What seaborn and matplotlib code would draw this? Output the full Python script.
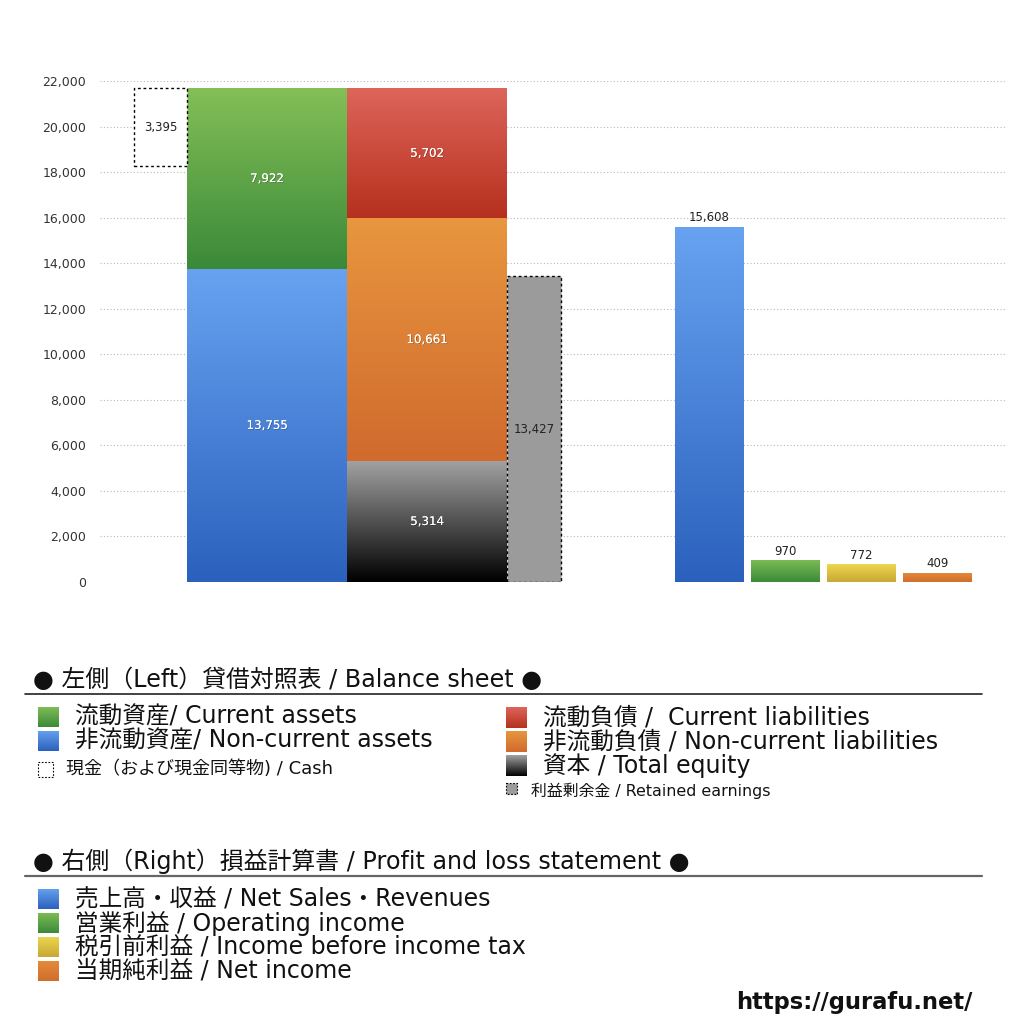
import numpy as np
import pandas as pd
import matplotlib
matplotlib.use("Agg")
import matplotlib.pyplot as plt
import seaborn as sns
from matplotlib.patches import Rectangle
import matplotlib.patheffects as pe
from matplotlib.colors import LinearSegmentedColormap

sns.set_style("white")
plt.rcParams['font.family'] = ['DejaVu Sans', 'Noto Sans CJK JP']

# ---------------- data ----------------
asset_labels = ["非流動資産", "流動資産"]
asset_values = [13755, 7922]
liab_labels = ["資本", "非流動負債", "流動負債"]
liab_values = [5314, 10661, 5702]
cash_value = 3395
retained_value = 13427
pl_labels = ["売上高・収益", "営業利益", "税引前利益", "当期純利益"]
pl_values = [15608, 970, 772, 409]
y_ticks = list(range(0, 22001, 2000))
y_tick_labels = [f"{v:,}" for v in y_ticks]

# ---------------- styles ----------------
asset_grads = [("#67a3f1", "#2b61bd"), ("#84bf57", "#3a8939")]
liab_grads = [("#a3a3a3", "#000000"), ("#e8963f", "#d06a2d"), ("#dd655a", "#b6301d")]
pl_grads = [("#67a3f1", "#2b61bd"), ("#7fbd55", "#3b8a39"), ("#ecd84e", "#c8a735"), ("#e68b3a", "#d06e2d")]
NUMFONT = ['DejaVu Sans']

W = 1024
fig = plt.figure(figsize=(10.24, 10.24), dpi=100)
fig.patch.set_facecolor("white")


def fx(px):
    return px / W


def fy(py):
    return 1 - py / W


ax = fig.add_axes([fx(100), fy(582), fx(1005) - fx(100), fy(81) - fy(582)])


def gradient_fill(a, patch, top, bottom, ylo, yhi, zorder=2):
    x0 = patch.get_x()
    w = patch.get_width()
    cmap = LinearSegmentedColormap.from_list("g", [bottom, top])
    grad = np.linspace(0, 1, 256).reshape(-1, 1)
    im = a.imshow(grad, cmap=cmap, origin="lower", extent=(x0, x0 + w, ylo, yhi),
                  aspect="auto", zorder=zorder, interpolation="bicubic")
    im.set_clip_path(patch)
    patch.set_facecolor("none")
    patch.set_edgecolor("none")


# positions (pixels relative to axes left edge)
cash_x, cash_w = 60.5, 53
bs_w = 160
assets_x, liab_x = 167, 327
ret_x, ret_w = 434, 54
pl_x = [609.5, 685.5, 761.5, 837.5]
pl_w = 69

label_effect = [pe.withSimplePatchShadow(offset=(0.5, -0.5), shadow_rgbFace="#000000", alpha=0.3), pe.Normal()]
LFS = 8.5

# assets stack
bottom = 0
for v, (top_c, bot_c) in zip(asset_values, asset_grads):
    p = ax.bar(assets_x, v, width=bs_w, bottom=bottom, linewidth=0, zorder=2)[0]
    gradient_fill(ax, p, top_c, bot_c, bottom, bottom + v)
    ax.text(assets_x, bottom + v / 2, f"{v:,}", color="white", ha="center", va="center",
            fontsize=LFS, family=NUMFONT, zorder=5, path_effects=label_effect)
    bottom += v

# liabilities + equity stack
bottom = 0
for v, (top_c, bot_c) in zip(liab_values, liab_grads):
    p = ax.bar(liab_x, v, width=bs_w, bottom=bottom, linewidth=0, zorder=2)[0]
    gradient_fill(ax, p, top_c, bot_c, bottom, bottom + v)
    ax.text(liab_x, bottom + v / 2, f"{v:,}", color="white", ha="center", va="center",
            fontsize=LFS, family=NUMFONT, zorder=5, path_effects=label_effect)
    bottom += v

# cash box (top aligned with total assets)
total_assets = sum(asset_values)
ax.bar(cash_x, cash_value, width=cash_w, bottom=total_assets - cash_value, facecolor="white",
       edgecolor="black", linewidth=1, linestyle=(0, (2, 2)), zorder=3)
ax.text(cash_x, total_assets - cash_value / 2, f"{cash_value:,}", color="#222222", ha="center",
        va="center", fontsize=LFS, family=NUMFONT, zorder=5)

# retained earnings
ax.bar(ret_x, retained_value, width=ret_w, facecolor="#9b9b9b", edgecolor="black",
       linewidth=1, linestyle=(0, (2, 2)), zorder=3)
ax.text(ret_x, retained_value / 2, f"{retained_value:,}", color="#222222", ha="center",
        va="center", fontsize=LFS, family=NUMFONT, zorder=5)

# P&L bars via seaborn
pl_df = pd.DataFrame({"x": pl_x, "value": pl_values, "label": pl_labels})
n_before = len(ax.patches)
sns.barplot(data=pl_df, x="x", y="value", native_scale=True, width=pl_w / 76,
            color="#4a86de", linewidth=0, errorbar=None, ax=ax, zorder=2)
new_patches = sorted(ax.patches[n_before:], key=lambda p: p.get_x())
for p, v, (top_c, bot_c) in zip(new_patches, pl_values, pl_grads):
    gradient_fill(ax, p, top_c, bot_c, 0, v)
    ax.text(p.get_x() + p.get_width() / 2, v + 100, f"{v:,}", color="#222222", ha="center",
            va="bottom", fontsize=LFS, family=NUMFONT, zorder=5)

ax.set_xlim(0, 905)
ax.set_ylim(0, 22000)
ax.set_yticks(y_ticks)
ax.set_yticklabels(y_tick_labels, fontsize=9, color="#333333", family=NUMFONT)
ax.set_xticks([])
ax.set_xlabel("")
ax.set_ylabel("")
ax.tick_params(axis="y", length=0, pad=10)
ax.yaxis.grid(True, linestyle=(0, (1, 2)), color="#b8b8b8", linewidth=0.8)
ax.set_axisbelow(True)
for s in ax.spines.values():
    s.set_visible(False)
ax.set_facecolor("none")

# ---------------- legend area (pixel coords) ----------------
lax = fig.add_axes([0, 0, 1, 1], zorder=-1)
lax.set_xlim(0, W)
lax.set_ylim(W, 0)
lax.axis("off")


def legend_square(x0, y0, size, top_c, bot_c):
    r = Rectangle((x0, y0), size, size, linewidth=0)
    lax.add_patch(r)
    gradient_fill(lax, r, top_c, bot_c, y0 + size, y0)


HFS = 17.2
IFS = 17

lax.text(33, 680, "● 左側（Left）貸借対照表 / Balance sheet ●", fontsize=HFS, va="center", ha="left", color="#111111")
lax.plot([25, 982], [694, 694], color="#222222", linewidth=1.2)

left_items = ["流動資産/ Current assets", "非流動資産/ Non-current assets"]
left_cols = [asset_grads[1], asset_grads[0]]
for i, (t, (tc, bc)) in enumerate(zip(left_items, left_cols)):
    yc = 717 + 24 * i
    legend_square(38, yc - 10.5, 21, tc, bc)
    lax.text(75, yc, t, fontsize=IFS, va="center", ha="left", color="#111111")

lax.add_patch(Rectangle((38, 762), 15, 15, facecolor="white", edgecolor="black", linewidth=0.8, linestyle=(0, (1.5, 1.5))))
lax.text(66, 769.5, "現金（および現金同等物) / Cash", fontsize=13, va="center", ha="left", color="#111111")

right_items = ["流動負債 /  Current liabilities", "非流動負債 / Non-current liabilities", "資本 / Total equity"]
right_cols = [liab_grads[2], liab_grads[1], liab_grads[0]]
for i, (t, (tc, bc)) in enumerate(zip(right_items, right_cols)):
    yc = 717.5 + 24 * i
    legend_square(506, yc - 10.5, 21, tc, bc)
    lax.text(543, yc, t, fontsize=IFS, va="center", ha="left", color="#111111")

lax.add_patch(Rectangle((506, 783), 11, 11, facecolor="#9b9b9b", edgecolor="black", linewidth=0.8, linestyle=(0, (1.5, 1.5))))
lax.text(531, 790.5, "利益剰余金 / Retained earnings", fontsize=11.4, va="center", ha="left", color="#111111")

lax.text(33, 861, "● 右側（Right）損益計算書 / Profit and loss statement ●", fontsize=HFS, va="center", ha="left", color="#111111")
lax.plot([25, 982], [876, 876], color="#666666", linewidth=1.6)

pl_items = ["売上高・収益 / Net Sales・Revenues", "営業利益 / Operating income",
            "税引前利益 / Income before income tax", "当期純利益 / Net income"]
for i, (t, (tc, bc)) in enumerate(zip(pl_items, pl_grads)):
    yc = 899 + 24 * i
    legend_square(38, yc - 10.5, 21, tc, bc)
    lax.text(75, yc, t, fontsize=IFS, va="center", ha="left", color="#111111")

lax.text(972, 1003, "https://gurafu.net/", fontsize=16.3, fontweight="bold", va="center", ha="right",
         color="#111111", family=["DejaVu Sans"])

fig.savefig("out.png", dpi=100, facecolor="white")
